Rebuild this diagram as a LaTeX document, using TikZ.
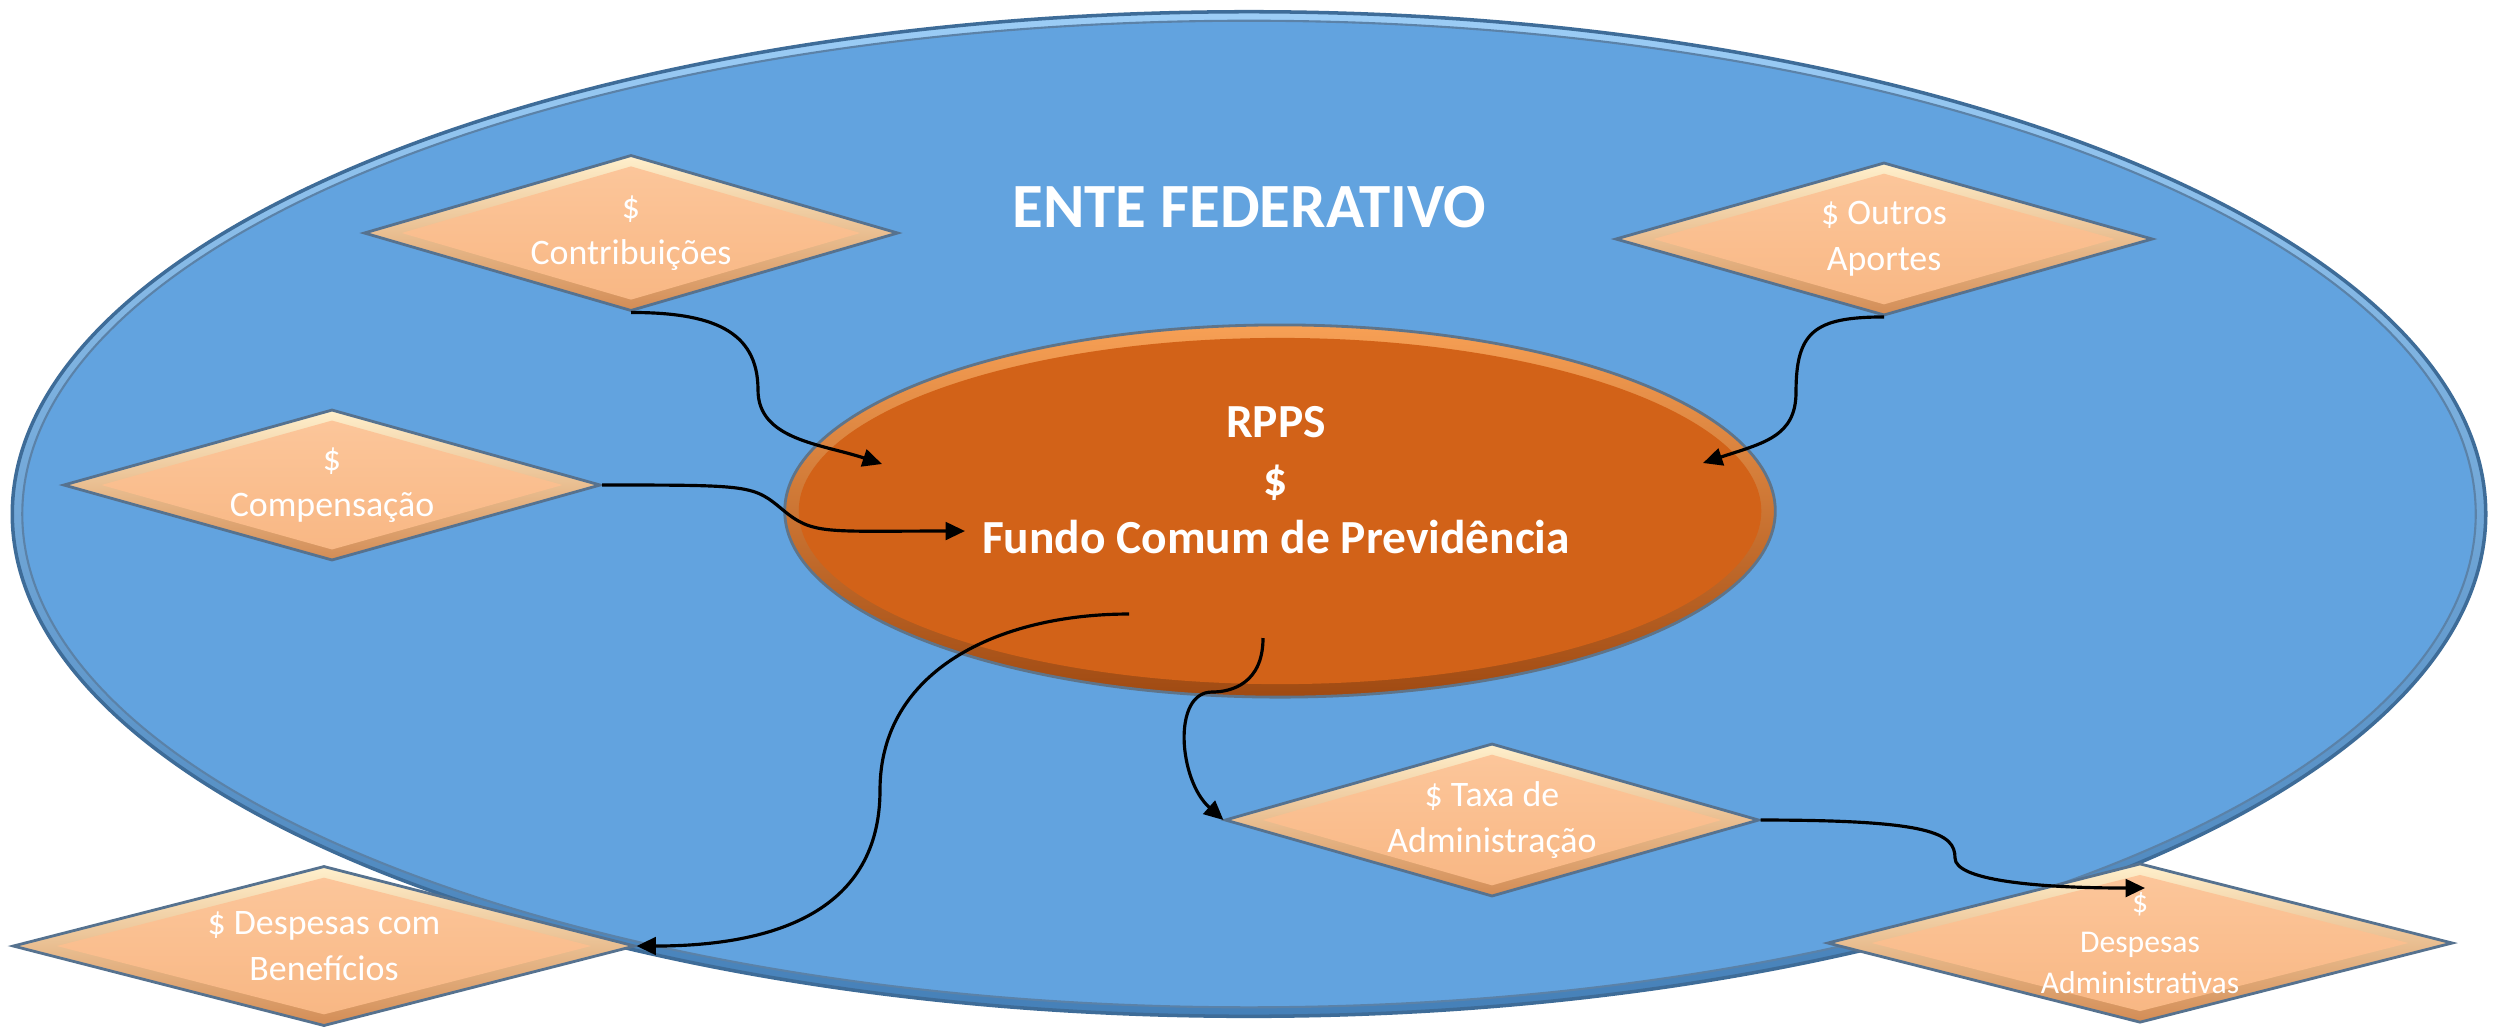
\documentclass[tikz,border=0pt]{standalone}
\usepackage{fontspec}
\setmainfont{Carlito}
\usetikzlibrary{shapes.geometric,arrows.meta,calc}
\definecolor{bigBlue}{HTML}{62A3DF}
\definecolor{ringTop}{HTML}{9CCDF6}
\definecolor{ringBot}{HTML}{4580B8}
\definecolor{edgeBlue}{HTML}{3E6C98}
\definecolor{orFace}{HTML}{D26218}
\definecolor{orTop}{HTML}{F7A055}
\definecolor{orBot}{HTML}{A04A12}
\definecolor{orEdge}{HTML}{5F7489}
\definecolor{peachLight}{HTML}{FFF0CC}
\definecolor{peachDark}{HTML}{D38C55}
\definecolor{peachFaceTop}{HTML}{FCC79C}
\definecolor{peachFaceBot}{HTML}{F8B682}
\definecolor{diaEdge}{HTML}{56728F}
\newcommand{\diafont}{\fontsize{10.2}{13}\selectfont}
\newcommand{\admfont}{\fontsize{9}{11.5}\selectfont}
\newcommand{\rppsfont}{\fontsize{13.5}{16.5}\selectfont\bfseries}
\newcommand{\entefont}{\fontsize{17.9}{21}\selectfont\bfseries}
\begin{document}
\begin{tikzpicture}[x=0.01cm,y=-0.01cm,
  dia/.style={shape=diamond, inner sep=0pt, aspect=3.4, draw=diaEdge, line width=0.8pt,
    top color=peachLight, bottom color=peachDark, text=white, align=center, font=\diafont,
    path picture={\shade[top color=peachFaceTop,bottom color=peachFaceBot]
      ($(path picture bounding box.center)!0.86!(path picture bounding box.north)$) --
      ($(path picture bounding box.center)!0.86!(path picture bounding box.east)$) --
      ($(path picture bounding box.center)!0.86!(path picture bounding box.south)$) --
      ($(path picture bounding box.center)!0.86!(path picture bounding box.west)$) -- cycle;}},
  flow/.style={draw=black, line width=0.9pt, -{Triangle[length=5.5pt,width=5pt]}},
  lbl/.style={text=white, align=center}
]
\fill[white] (0,0) rectangle (2501,1029);
\useasboundingbox (0,0) rectangle (2501,1029);

% outer ellipse
\node[shape=ellipse, minimum width=24.72cm, minimum height=10.04cm, inner sep=0pt,
  draw=edgeBlue, line width=1pt, top color=ringTop, bottom color=ringBot,
  path picture={\fill[bigBlue] (path picture bounding box.center) ellipse [x radius=12.26cm, y radius=4.93cm];
    \draw[edgeBlue!85, line width=0.6pt] (path picture bounding box.center) ellipse [x radius=12.26cm, y radius=4.93cm];}]
  (ente) at (1249,514) {};
\node[lbl, font=\entefont] (entelbl) at (1249,207) {ENTE FEDERATIVO};

% RPPS ellipse
\node[shape=ellipse, minimum width=9.9cm, minimum height=3.72cm, inner sep=0pt,
  draw=orEdge, line width=0.8pt, top color=orTop, bottom color=orBot,
  path picture={\fill[orFace] (path picture bounding box.center) ellipse [x radius=4.81cm, y radius=1.73cm];}]
  (rpps) at (1280,511) {};
\node[lbl, font=\rppsfont] (rppslbl) at (1276,480) {RPPS\\\$\\Fundo Comum de Previdência};

% diamonds
\node[dia, minimum width=5.34cm, minimum height=1.56cm] (contrib) at (631,233) {\$\\Contribuições};
\node[dia, minimum width=5.37cm, minimum height=1.53cm] (outros) at (1884,239) {\$ Outros\\Aportes};
\node[dia, minimum width=5.37cm, minimum height=1.51cm] (comp) at (332,485) {\$\\Compensação};
\node[dia, minimum width=5.34cm, minimum height=1.53cm] (taxa) at (1492,820) {\$ Taxa de\\Administração};
\node[dia, minimum width=6.22cm, minimum height=1.60cm] (despben) at (324,946) {\$ Despesas com\\Benefícios};
\node[dia, minimum width=6.25cm, minimum height=1.55cm, font=\admfont] (despadm) at (2140,943) {\$\\Despesas\\Administrativas};

% connector end points inside the RPPS ellipse
\coordinate (inA) at (882,464);
\coordinate (inB) at (1703,463);
\coordinate (inC) at (965,531);
\coordinate (outD) at (1129,614);
\coordinate (outE) at (1263,638);
\coordinate (inF) at (2145,888);

% connectors
\draw[flow] (contrib.south) .. controls +(80,0) and +(0,-60) .. (758,390)
  .. controls +(0,50) and +(-60,-20) .. (inA);
\draw[flow] (outros.south) .. controls +(-70,0) and +(0,-60) .. (1796,392)
  .. controls +(0,45) and +(60,-20) .. (inB);
\draw[flow] (comp.east) .. controls +(150,0) and +(-30,-25) .. (783,510)
  .. controls +(30,25) and +(-140,0) .. (inC);
\draw[flow] (outD) .. controls +(-130,0) and +(0,-120) .. (880,790)
  .. controls +(0,120) and +(140,0) .. (despben.east);
\draw[flow] (outE) .. controls +(0,45) and +(20,0) .. (1212,692)
  .. controls +(-40,0) and +(-45,-40) .. (taxa.west);
\draw[flow] (taxa.east) .. controls +(170,0) and +(0,-25) .. (1955,858)
  .. controls +(0,22) and +(-110,0) .. (inF);
\end{tikzpicture}
\end{document}
